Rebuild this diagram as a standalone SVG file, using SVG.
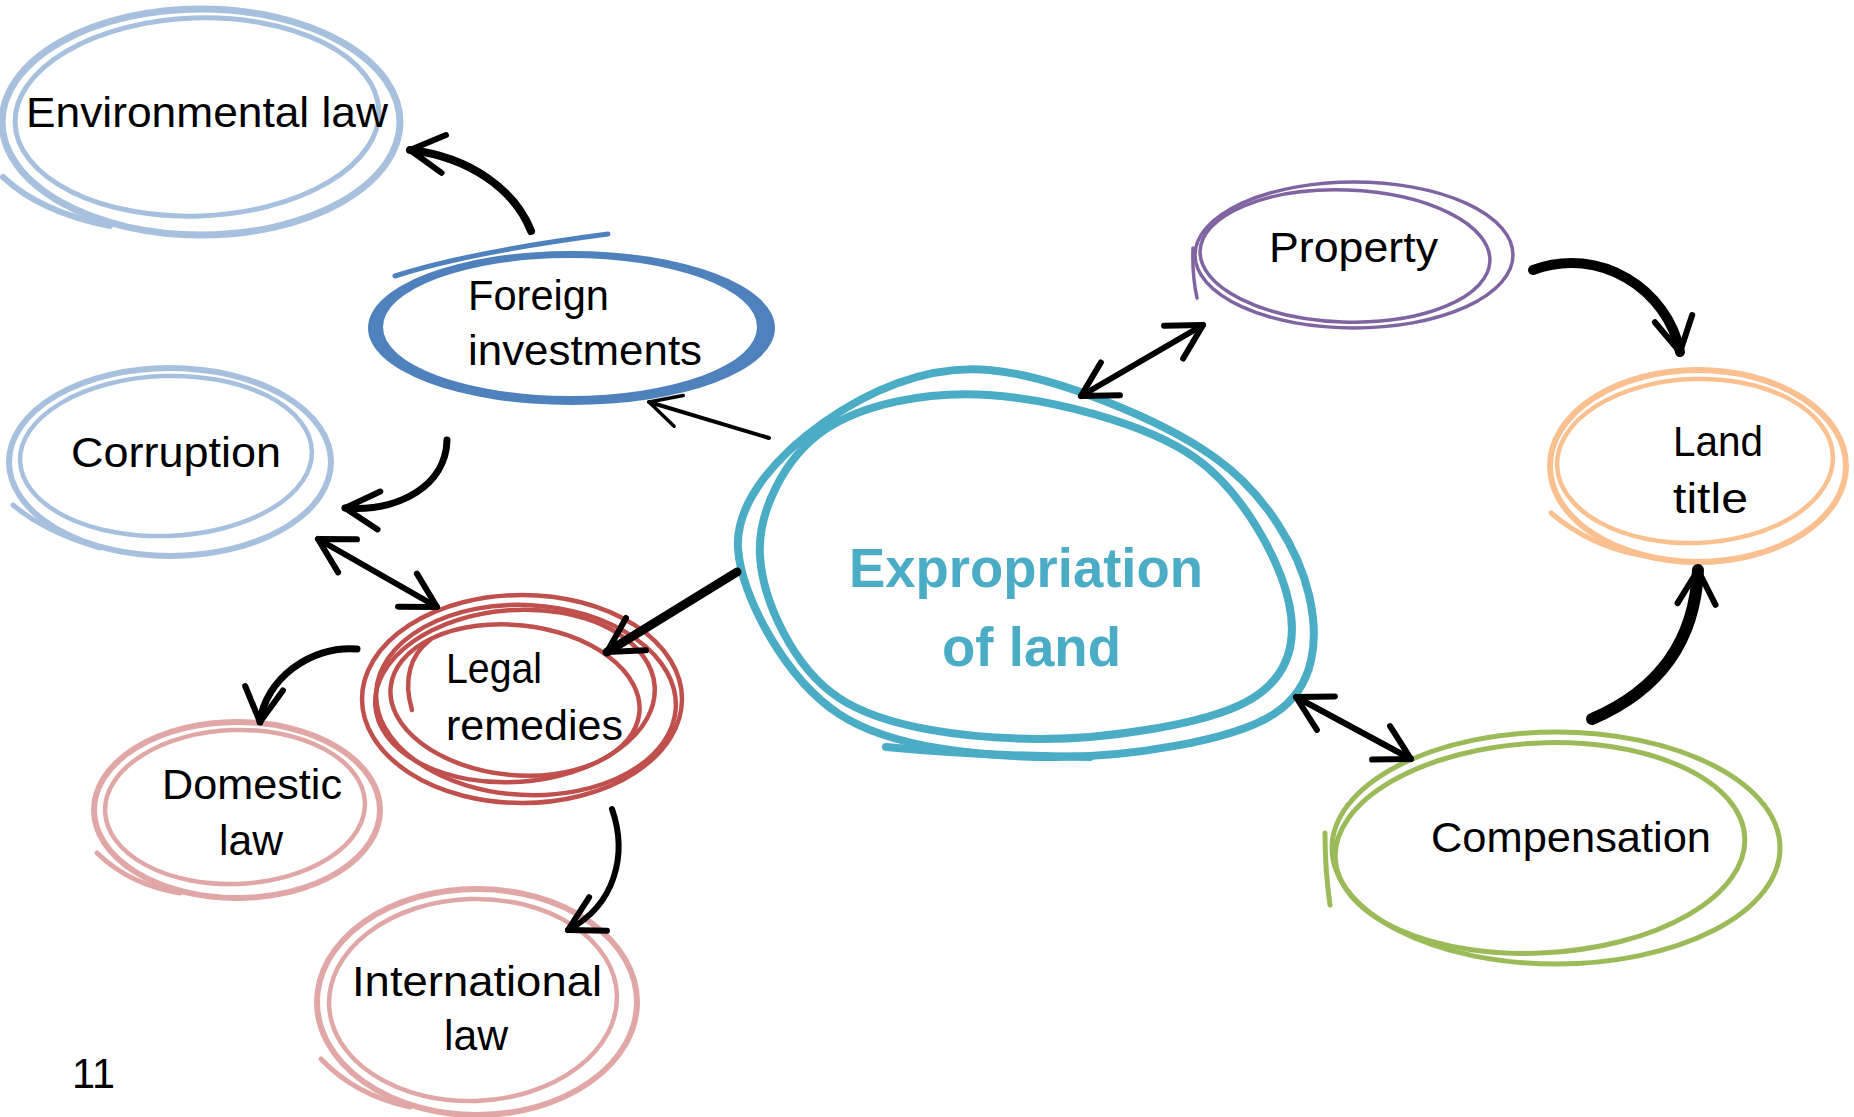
<svg xmlns="http://www.w3.org/2000/svg" width="1854" height="1117" viewBox="0 0 1854 1117">
<style>
.lbl{font-family:"Liberation Sans",Arial,sans-serif;font-size:42px;fill:#000}
.ttl{font-family:"Liberation Sans",Arial,sans-serif;font-size:55px;font-weight:bold;fill:#4BACC6}
.lb{fill:none;stroke:#A7C0DE;stroke-linecap:round}
.pk{fill:none;stroke:#E0A7A6;stroke-linecap:round}
.rd{fill:none;stroke:#C0504D;stroke-width:4.5;stroke-linecap:round}
.pu{fill:none;stroke:#8064A2;stroke-width:3.5;stroke-linecap:round}
.or{fill:none;stroke:#FAC08F;stroke-linecap:round}
.gr{fill:none;stroke:#9BBB59;stroke-width:5;stroke-linecap:round}
.tl{fill:none;stroke:#4BACC6;stroke-width:8;stroke-linecap:round}
.ar{fill:none;stroke:#000;stroke-linecap:round;stroke-linejoin:round}
</style>
<defs>
<marker id="ah" viewBox="0 0 46 46" refX="41" refY="23" markerWidth="46" markerHeight="46" markerUnits="userSpaceOnUse" orient="auto-start-reverse">
<path d="M7,4 L41,23 L7,42" fill="none" stroke="#000" stroke-width="6" stroke-linecap="round" stroke-linejoin="round"/>
</marker>
<marker id="ahs" viewBox="0 0 40 40" refX="37" refY="20" markerWidth="40" markerHeight="40" markerUnits="userSpaceOnUse" orient="auto-start-reverse">
<path d="M6,4 L37,20 L6,36" fill="none" stroke="#000" stroke-width="3.5" stroke-linecap="round" stroke-linejoin="round"/>
</marker>
</defs>
<rect width="1854" height="1117" fill="#fff"/>

<g id="node-environmental-law">
<ellipse class="lb" cx="201" cy="122" rx="199" ry="113" stroke-width="7"/>
<ellipse class="lb" cx="197" cy="117" rx="182" ry="99" stroke-width="5" transform="rotate(-2 197 117)"/>
<path class="lb" d="M3,177 Q40,212 110,226" stroke-width="6"/>
<text class="lbl" x="26" y="127" textLength="362" lengthAdjust="spacingAndGlyphs">Environmental law</text>
</g>

<g id="node-foreign-investments">
<path fill="#4F81BD" fill-rule="evenodd" d="M368,328 a203.5,77 0 1,0 407,0 a203.5,77 0 1,0 -407,0 Z M383,327 a187,69 0 1,0 374,0 a187,69 0 1,0 -374,0 Z"/>
<path d="M395,276 Q470,252 608,234" fill="none" stroke="#4F81BD" stroke-width="5" stroke-linecap="round"/>
<text class="lbl" x="468" y="310" textLength="141" lengthAdjust="spacingAndGlyphs">Foreign</text>
<text class="lbl" x="468" y="365" textLength="234" lengthAdjust="spacingAndGlyphs">investments</text>
</g>

<g id="node-corruption">
<ellipse class="lb" cx="170" cy="462" rx="161" ry="94" stroke-width="6"/>
<ellipse class="lb" cx="166" cy="456" rx="146" ry="80" stroke-width="4.5" transform="rotate(-2 166 456)"/>
<path class="lb" d="M13,505 Q45,532 100,548" stroke-width="5"/>
<text class="lbl" x="71" y="467" textLength="210" lengthAdjust="spacingAndGlyphs">Corruption</text>
</g>

<g id="node-expropriation">
<path class="tl" d="M738,548 C735.3,499.5 781.2,452.7 823,423 C864.8,393.3 923.8,364.3 989,370 C1054.2,375.7 1160.7,419.5 1214,457 C1267.3,494.5 1299,552.2 1309,595 C1319,637.8 1316.2,687 1274,714 C1231.8,741 1128.5,757 1056,757 C983.5,757 892,748.8 839,714 C786,679.2 740.7,596.5 738,548 Z"/>
<path class="tl" d="M760,556 C757.3,511.5 784.8,457.8 823,431 C861.2,404.2 927.2,390.7 989,395 C1050.8,399.3 1144,422.3 1194,457 C1244,491.7 1280.3,562.2 1289,603 C1297.7,643.8 1288.2,679.3 1246,702 C1203.8,724.7 1103.8,739.7 1036,739 C968.2,738.3 885,728.5 839,698 C793,667.5 762.7,600.5 760,556 Z"/>
<path class="tl" d="M886,747 Q980,756 1090,757"/>
<text class="ttl" x="849" y="587" textLength="354" lengthAdjust="spacingAndGlyphs">Expropriation</text>
<text class="ttl" x="942" y="666" textLength="179" lengthAdjust="spacingAndGlyphs">of land</text>
</g>

<g id="node-legal-remedies">
<ellipse class="rd" cx="522" cy="699" rx="160" ry="104"/>
<ellipse class="rd" cx="526" cy="700" rx="150" ry="95" transform="rotate(3 526 700)"/>
<ellipse class="rd" cx="515" cy="696" rx="140" ry="86" transform="rotate(-4 515 696)"/>
<ellipse class="rd" cx="515" cy="700" rx="125" ry="75" transform="rotate(6 515 700)"/>
<path class="rd" d="M412,710 C403,680 410,655 430,640"/>
<text class="lbl" x="446" y="683" textLength="96" lengthAdjust="spacingAndGlyphs">Legal</text>
<text class="lbl" x="446" y="740" textLength="177" lengthAdjust="spacingAndGlyphs">remedies</text>
</g>

<g id="node-domestic-law">
<ellipse class="pk" cx="237" cy="810" rx="143" ry="88" stroke-width="6"/>
<ellipse class="pk" cx="235" cy="807" rx="130" ry="77" stroke-width="4.5" transform="rotate(-2 235 807)"/>
<path class="pk" d="M97,853 Q130,885 180,893" stroke-width="5"/>
<text class="lbl" x="162" y="799" textLength="180" lengthAdjust="spacingAndGlyphs">Domestic</text>
<text class="lbl" x="219" y="855" textLength="64" lengthAdjust="spacingAndGlyphs">law</text>
</g>

<g id="node-international-law">
<ellipse class="pk" cx="477" cy="1002" rx="160" ry="113" stroke-width="6"/>
<ellipse class="pk" cx="473" cy="1000" rx="144" ry="101" stroke-width="4.5" transform="rotate(-2 473 1000)"/>
<path class="pk" d="M321,1059 Q355,1095 410,1107" stroke-width="5"/>
<text class="lbl" x="352" y="996" textLength="250" lengthAdjust="spacingAndGlyphs">International</text>
<text class="lbl" x="444" y="1050" textLength="64" lengthAdjust="spacingAndGlyphs">law</text>
</g>

<g id="node-property">
<ellipse class="pu" cx="1354" cy="255" rx="159" ry="73"/>
<ellipse class="pu" cx="1345" cy="256" rx="145" ry="66" transform="rotate(2 1345 256)"/>
<path class="pu" d="M1193,248 Q1192,275 1197,298"/>
<text class="lbl" x="1269" y="262" textLength="169" lengthAdjust="spacingAndGlyphs">Property</text>
</g>

<g id="node-land-title">
<ellipse class="or" cx="1698" cy="466" rx="148" ry="96" stroke-width="6"/>
<ellipse class="or" cx="1695" cy="461" rx="138" ry="82" stroke-width="4.5" transform="rotate(-2 1695 461)"/>
<path class="or" d="M1551,513 Q1590,546 1640,555" stroke-width="5"/>
<text class="lbl" x="1673" y="456" textLength="90" lengthAdjust="spacingAndGlyphs">Land</text>
<text class="lbl" x="1673" y="513" textLength="75" lengthAdjust="spacingAndGlyphs">title</text>
</g>

<g id="node-compensation">
<ellipse class="gr" cx="1556" cy="848" rx="224" ry="116"/>
<ellipse class="gr" cx="1540" cy="848" rx="205" ry="105" transform="rotate(-3 1540 848)"/>
<path class="gr" d="M1325,833 Q1325,870 1330,905"/>
<text class="lbl" x="1431" y="852" textLength="280" lengthAdjust="spacingAndGlyphs">Compensation</text>
</g>

<g id="connectors">
<path class="ar" d="M531,231 C515,190 470,157 410,150" stroke-width="8" marker-end="url(#ah)"/>
<path class="ar" d="M769,438 L649,402" stroke-width="4" marker-end="url(#ahs)"/>
<path class="ar" d="M447,440 C446,485 400,512 345,508" stroke-width="7" marker-end="url(#ah)"/>
<path class="ar" d="M318,539 L437,607" stroke-width="6" marker-start="url(#ah)" marker-end="url(#ah)"/>
<path class="ar" d="M737,572 L607,652" stroke-width="9" marker-end="url(#ah)"/>
<path class="ar" d="M357,649 C310,645 265,680 260,722" stroke-width="7" marker-end="url(#ah)"/>
<path class="ar" d="M612,809 C628,855 615,905 568,930" stroke-width="6" marker-end="url(#ah)"/>
<path class="ar" d="M1081,396 L1203,325" stroke-width="6" marker-start="url(#ah)" marker-end="url(#ah)"/>
<path class="ar" d="M1533,270 C1600,245 1668,290 1680,352" stroke-width="10" marker-end="url(#ah)"/>
<path class="ar" d="M1592,719 C1660,690 1695,640 1698,570" stroke-width="12" marker-end="url(#ah)"/>
<path class="ar" d="M1296,697 L1411,759" stroke-width="6" marker-start="url(#ah)" marker-end="url(#ah)"/>
</g>

<text class="lbl" x="72" y="1088" font-size="38" textLength="43" lengthAdjust="spacingAndGlyphs">11</text>
</svg>
